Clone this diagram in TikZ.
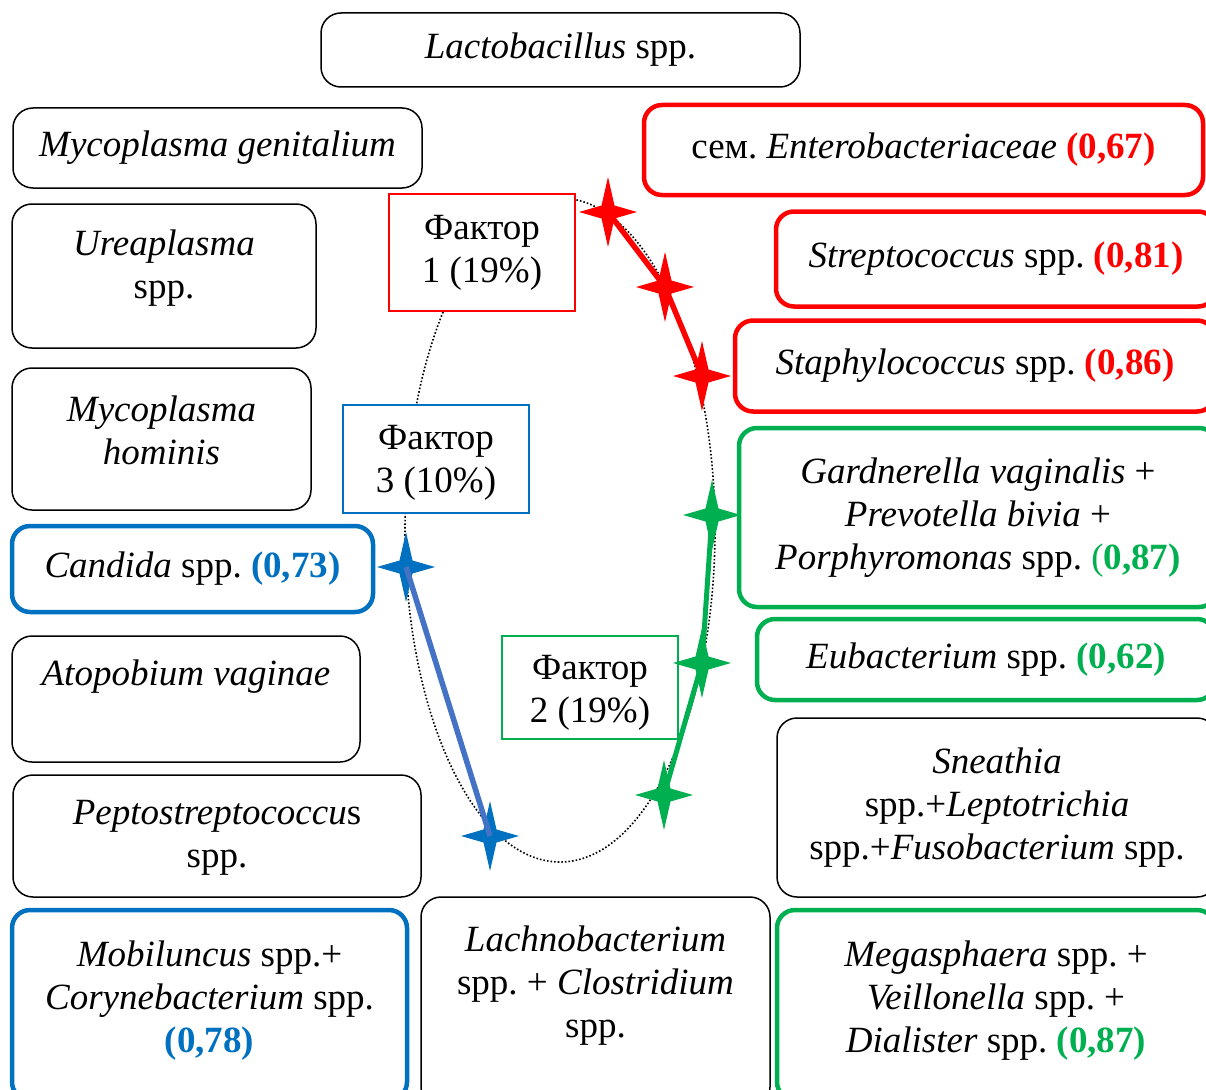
\documentclass[tikz,border=0pt]{standalone}
\usepackage{fontspec}
\setmainfont{Liberation Serif}
\frenchspacing
\definecolor{cred}{HTML}{FF0000}
\definecolor{cgreen}{HTML}{00B050}
\definecolor{cblue}{HTML}{0070C0}
\definecolor{lblue}{HTML}{4472C4}
\newcommand\drawstar[2]{\fill[#2] (#1) ++(0,-35) -- ++(6.5,28.5) -- ++(22.5,6.5) -- ++(-22.5,6.5) -- ++(-6.5,28.5) -- ++(-6.5,-28.5) -- ++(-22.5,-6.5) -- ++(22.5,-6.5) -- cycle;}
\begin{document}
\begin{tikzpicture}[x=1pt,y=-1pt,
  every node/.style={font=\fontsize{37}{43}\selectfont, align=center, inner sep=0pt},
  bbox/.style={draw=black, line width=1.5pt, rounded corners=20pt, fill=white},
  rbox/.style={draw=cred, line width=4.5pt, rounded corners=18pt, fill=white},
  gbox/.style={draw=cgreen, line width=4.5pt, rounded corners=18pt, fill=white},
  ubox/.style={draw=cblue, line width=4.5pt, rounded corners=18pt, fill=white},
  fbox/.style={line width=1.2pt, fill=white},
  rline/.style={cred, line width=5.5pt},
  gline/.style={cgreen, line width=5pt},
  uline/.style={lblue, line width=5.5pt},
  ell/.style={black, dotted, line width=1.6pt}]
\useasboundingbox (0,0) rectangle (1206,1089);
\clip (0,0) rectangle (1206,1089);
% ellipse
\coordinate (ec) at (560,530);
\draw[ell] (ec) ellipse [x radius=155, y radius=332];
% left column
\node[bbox, minimum width=479pt, minimum height=74pt] (lacto) at (560.5,50) {\textit{Lactobacillus} spp.};
\node[bbox, minimum width=409pt, minimum height=80pt] (mgen) at (217.5,148) {\textit{Mycoplasma genitalium}};
\node[bbox, minimum width=304pt, minimum height=144pt] (urea) at (164,276) {};
\node (ureaT) at (164,268) {\textit{Ureaplasma}\\spp.};
\node[bbox, minimum width=299pt, minimum height=142pt] (mhom) at (161.5,439) {};
\node (mhomT) at (161.5,430) {\textit{Mycoplasma}\\\textit{hominis}};
\node[ubox, minimum width=361pt, minimum height=86pt] (cand) at (192.5,569) {\textit{Candida} spp. \textcolor{cblue}{\textbf{(0,73)}}};
\node[bbox, minimum width=348pt, minimum height=126pt] (atop) at (186,699) {};
\node (atopT) at (186,677) {\textit{Atopobium vaginae}};
\node[bbox, minimum width=408pt, minimum height=122pt] (pepto) at (217,836) {};
\node (peptoT) at (217,838) {\textit{Peptostreptococcu}s\\spp.};
\node[ubox, minimum width=395pt, minimum height=190pt] (mobil) at (209.5,1005) {};
\node (mobilT) at (209.5,1001) {\textit{Mobiluncus} spp.+\\\textit{Corynebacterium} spp.\\\textcolor{cblue}{\textbf{(0,78)}}};
\node[bbox, minimum width=349pt, minimum height=210pt] (lachno) at (595.5,1002) {};
\node (lachnoT) at (595.5,986) {\textit{Lachnobacterium}\\spp. + \textit{Clostridium}\\spp.};
% right column
\node[rbox, minimum width=559pt, minimum height=90pt] (entero) at (923.5,150) {сем. \textit{Enterobacteriaceae} \textcolor{cred}{\textbf{(0,67)}}};
\node[rbox, minimum width=440pt, minimum height=95pt] (strep) at (996,259) {\textit{Streptococcus} spp. \textcolor{cred}{\textbf{(0,81)}}};
\node[rbox, minimum width=480pt, minimum height=91pt] (staph) at (975,366) {\textit{Staphylococcus} spp. \textcolor{cred}{\textbf{(0,86)}}};
\node[gbox, minimum width=478pt, minimum height=179pt] (gard) at (978,517.5) {\textit{Gardnerella vaginalis} +\\\textit{Prevotella bivia} +\\\textit{Porphyromonas} spp. \textcolor{cgreen}{(\textbf{0,87)}}};
\node[gbox, minimum width=458pt, minimum height=81pt] (eubac) at (986,659.5) {\textit{Eubacterium} spp. \textcolor{cgreen}{\textbf{(0,62)}}};
\node[bbox, minimum width=440pt, minimum height=179pt] (sneath) at (997,807.5) {\textit{Sneathia}\\spp.+\textit{Leptotrichia}\\spp.+\textit{Fusobacterium} spp.};
\node[gbox, minimum width=438pt, minimum height=190pt] (mega) at (996,1005) {};
\node (megaT) at (996,1001) {\textit{Megasphaera} spp. +\\\textit{Veillonella} spp. +\\\textit{Dialister} spp. \textcolor{cgreen}{\textbf{(0,87)}}};
% factor boxes
\node[fbox, draw=cred, minimum width=186pt, minimum height=117pt] (f1) at (482,252.5) {};
\node (f1T) at (482,253) {Фактор\\1 (19\%)};
\node[fbox, draw=cblue, minimum width=186pt, minimum height=108pt] (f3) at (436,459) {};
\node (f3T) at (436,463) {Фактор\\3 (10\%)};
\node[fbox, draw=cgreen, minimum width=176pt, minimum height=103pt] (f2) at (590,687.5) {};
\node (f2T) at (590,693) {Фактор\\2 (19\%)};
% stars
\coordinate (r1) at (608,212);
\coordinate (r2) at (665,287);
\coordinate (r3) at (702,376);
\coordinate (g1) at (712,515);
\coordinate (g2) at (702,663);
\coordinate (g3) at (664,795);
\coordinate (u1) at (406,567);
\coordinate (u2) at (490,836);
\drawstar{r1}{cred}
\drawstar{r2}{cred}
\drawstar{r3}{cred}
\drawstar{g1}{cgreen}
\drawstar{g2}{cgreen}
\drawstar{g3}{cgreen}
\drawstar{u1}{cblue}
\drawstar{u2}{cblue}
\draw[rline] (r1) -- (r2) -- (r3);
\draw[gline] (g1) -- (g2) -- (g3);
\draw[uline] (u1) -- (u2);
\end{tikzpicture}
\end{document}
